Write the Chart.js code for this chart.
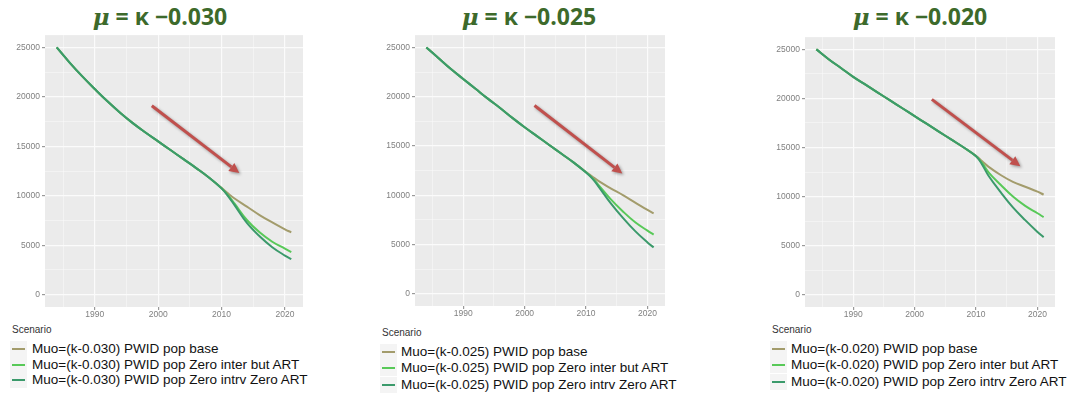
<!DOCTYPE html>
<html>
<head>
<meta charset="utf-8">
<script src="https://cdn.jsdelivr.net/npm/chart.js@4.4.1/dist/chart.umd.min.js"></script>
<style>
  body { margin: 0; background: #fff; width: 1077px; height: 394px; position: relative; overflow: hidden; font-family: "Liberation Sans", Arial, sans-serif; }
  .title { position: absolute; top: 0px; width: 260px; text-align: center; font: bold 23px "Open Sans", sans-serif; color: #3d6a2b; white-space: nowrap; }
  .title i { font-family: "DejaVu Serif", serif; }
  canvas { position: absolute; }
  .scen { position: absolute; font-size: 10px; color: #333; }
  .row { position: absolute; font-size: 13.5px; line-height: 16px; color: #111; white-space: nowrap; }
  .key { position: absolute; width: 17px; height: 16px; background: #f4f4f4; }
  .key span { position: absolute; left: 2px; right: 2px; top: 7px; height: 2px; }
</style>
</head>
<body>
<script>
// years shared by every series
var years = [1984, 1986, 1988, 1990, 1992, 1994, 1996, 1998, 2000, 2002, 2004, 2006, 2008, 2010, 2011, 2012, 2014, 2016, 2018, 2020, 2021];

// mu = kappa - 0.030
var base030  = [25000, 23500, 22100, 20800, 19550, 18400, 17350, 16400, 15500, 14600, 13700, 12800, 11850, 10800, 10250, 9750, 8900, 8050, 7300, 6600, 6300];
var inter030 = [25000, 23500, 22100, 20800, 19550, 18400, 17350, 16400, 15500, 14600, 13700, 12800, 11850, 10750, 10050, 9250, 7550, 6300, 5350, 4650, 4300];
var intrv030 = [25000, 23500, 22100, 20800, 19550, 18400, 17350, 16400, 15500, 14600, 13700, 12800, 11850, 10750, 10000, 9100, 7250, 5900, 4800, 3950, 3600];

// mu = kappa - 0.025
var base025  = [25000, 23900, 22800, 21800, 20800, 19800, 18850, 17850, 16900, 16000, 15100, 14200, 13300, 12350, 11900, 11450, 10700, 10000, 9250, 8500, 8150];
var inter025 = [25000, 23900, 22800, 21800, 20800, 19800, 18850, 17850, 16900, 16000, 15100, 14200, 13300, 12300, 11750, 11050, 9600, 8350, 7250, 6400, 6000];
var intrv025 = [25000, 23900, 22800, 21800, 20800, 19800, 18850, 17850, 16900, 16000, 15100, 14200, 13300, 12300, 11700, 10900, 9200, 7700, 6350, 5200, 4700];

// mu = kappa - 0.020
var base020  = [25000, 24000, 23100, 22200, 21400, 20600, 19800, 19000, 18200, 17400, 16600, 15800, 15000, 14150, 13600, 13050, 12200, 11500, 11000, 10500, 10200];
var inter020 = [25000, 24000, 23100, 22200, 21400, 20600, 19800, 19000, 18200, 17400, 16600, 15800, 15000, 14100, 13400, 12500, 11200, 10000, 9050, 8300, 7900];
var intrv020 = [25000, 24000, 23100, 22200, 21400, 20600, 19800, 19000, 18200, 17400, 16600, 15800, 15000, 14100, 13250, 12150, 10450, 8900, 7600, 6400, 5850];

var kappas = ["0.030", "0.025", "0.020"];
var scenarios = ["PWID pop base", "PWID pop Zero inter but ART", "PWID pop Zero intrv Zero ART"];
var xTicks = [1985, 1990, 1995, 2000, 2005, 2010, 2015, 2020];
var yTicks = [0, 2500, 5000, 7500, 10000, 12500, 15000, 17500, 20000, 22500, 25000];

// arrow annotations in data units: [x0, y0, x1, y1]
var arrows = [
  [1999.0, 19100, 2012.8, 12300],
  [2001.6, 19100, 2015.9, 12200],
  [2002.8, 19900, 2017.2, 13100]
];

var colors = ["#a39c6c", "#58c958", "#3b9a6b"];

var panels = [
  { series: [base030, inter030, intrv030], title: 160, left: 0,   top: 28, w: 320, h: 292, pr: 17, keyX: 10,  textX: 32,  scenY: 324, rows: [349, 364.5, 380] },
  { series: [base025, inter025, intrv025], title: 529, left: 370, top: 28, w: 310, h: 291, pr: 15, keyX: 380, textX: 401, scenY: 327, rows: [352, 368, 385] },
  { series: [base020, inter020, intrv020], title: 920, left: 760, top: 30, w: 310, h: 290, pr: 15, keyX: 770, textX: 791, scenY: 324, rows: [349, 365, 382] }
];

var panelBg = {
  id: 'panelBg',
  beforeDraw: function(chart) {
    var a = chart.chartArea, c = chart.ctx;
    c.save();
    c.fillStyle = '#ebebeb';
    c.fillRect(a.left, a.top, a.right - a.left, a.bottom - a.top);
    c.restore();
  }
};

var arrowPlugin = {
  id: 'arrow',
  afterDatasetsDraw: function(chart, args, opts) {
    var ar = opts.coords;
    if (!ar) return;
    var xs = chart.scales.x, ys = chart.scales.y, c = chart.ctx;
    var x0 = xs.getPixelForValue(ar[0]), y0 = ys.getPixelForValue(ar[1]);
    var x1 = xs.getPixelForValue(ar[2]), y1 = ys.getPixelForValue(ar[3]);
    var ang = Math.atan2(y1 - y0, x1 - x0);
    var hl = 10, hw = 5;
    var bx = x1 - hl * Math.cos(ang), by = y1 - hl * Math.sin(ang);
    c.save();
    c.shadowColor = 'rgba(0,0,0,0.35)';
    c.shadowBlur = 3;
    c.shadowOffsetX = 1.5;
    c.shadowOffsetY = 1.5;
    c.strokeStyle = '#c0504d';
    c.fillStyle = '#c0504d';
    c.lineWidth = 3;
    c.beginPath();
    c.moveTo(x0, y0);
    c.lineTo(bx, by);
    c.stroke();
    c.beginPath();
    c.moveTo(x1, y1);
    c.lineTo(bx + hw * Math.sin(ang), by - hw * Math.cos(ang));
    c.lineTo(bx - hw * Math.sin(ang), by + hw * Math.cos(ang));
    c.closePath();
    c.fill();
    c.restore();
  }
};

panels.forEach(function(p, pi) {
  var t = document.createElement('div');
  t.className = 'title';
  t.style.left = (p.title - 130) + 'px';
  t.innerHTML = '<i>\u03bc</i> = \u03ba \u2212' + kappas[pi];
  document.body.appendChild(t);

  var cv = document.createElement('canvas');
  cv.width = p.w; cv.height = p.h;
  cv.style.left = p.left + 'px'; cv.style.top = p.top + 'px';
  document.body.appendChild(cv);

  var sc = document.createElement('div');
  sc.className = 'scen';
  sc.style.left = (p.keyX + 2) + 'px';
  sc.style.top = p.scenY + 'px';
  sc.textContent = 'Scenario';
  document.body.appendChild(sc);

  scenarios.forEach(function(s, si) {
    var k = document.createElement('div');
    k.className = 'key';
    k.style.left = p.keyX + 'px';
    k.style.top = (p.rows[si] - 8) + 'px';
    k.innerHTML = '<span style="background:' + colors[si] + '"></span>';
    document.body.appendChild(k);
    var r = document.createElement('div');
    r.className = 'row';
    r.style.left = p.textX + 'px';
    r.style.top = (p.rows[si] - 8) + 'px';
    r.textContent = 'Muo=(k-' + kappas[pi] + ') ' + s;
    document.body.appendChild(r);
  });

  new Chart(cv, {
    type: 'line',
    data: {
      datasets: p.series.map(function(vals, si) {
        return {
          label: 'Muo=(k-' + kappas[pi] + ') ' + scenarios[si],
          data: years.map(function(y, i) { return { x: y, y: vals[i] }; }),
          borderColor: colors[si],
          borderWidth: 2,
          pointRadius: 0,
          tension: 0.4,
          order: 3 - si
        };
      })
    },
    options: {
      responsive: false,
      animation: false,
      devicePixelRatio: 1,
      layout: { padding: { top: 5, right: p.pr, bottom: 0, left: 0 } },
      plugins: {
        legend: { display: false },
        tooltip: { enabled: false },
        arrow: { coords: arrows[pi] }
      },
      scales: {
        x: {
          type: 'linear',
          min: 1982.15,
          max: 2022.85,
          afterBuildTicks: function(s) { s.ticks = xTicks.map(function(v) { return { value: v }; }); },
          afterFit: function(s) { s.height = 13; },
          border: { display: false },
          grid: {
            color: '#fbfbfb',
            lineWidth: function(c) { return c.tick && c.tick.value % 10 === 0 ? 1.2 : 0.5; },
            tickColor: function(c) { return c.tick && c.tick.value % 10 === 0 ? '#999' : 'rgba(0,0,0,0)'; },
            tickLength: 3
          },
          ticks: {
            autoSkip: false,
            maxRotation: 0,
            padding: 0,
            color: '#808080',
            font: { family: 'Liberation Sans', size: 8.5 },
            callback: function(v) { return v % 10 === 0 ? String(v) : ''; }
          }
        },
        y: {
          type: 'linear',
          min: -1250,
          max: 26250,
          afterBuildTicks: function(s) { s.ticks = yTicks.map(function(v) { return { value: v }; }); },
          afterFit: function(s) { s.width = 45; },
          border: { display: false },
          grid: {
            color: '#fbfbfb',
            lineWidth: function(c) { return c.tick && c.tick.value % 5000 === 0 ? 1.2 : 0.5; },
            tickColor: function(c) { return c.tick && c.tick.value % 5000 === 0 ? '#999' : 'rgba(0,0,0,0)'; },
            tickLength: 3
          },
          ticks: {
            autoSkip: false,
            padding: 2,
            color: '#808080',
            font: { family: 'Liberation Sans', size: 8.5 },
            callback: function(v) { return v % 5000 === 0 ? String(v) : ''; }
          }
        }
      }
    },
    plugins: [panelBg, arrowPlugin]
  });
});
</script>
</body>
</html>
